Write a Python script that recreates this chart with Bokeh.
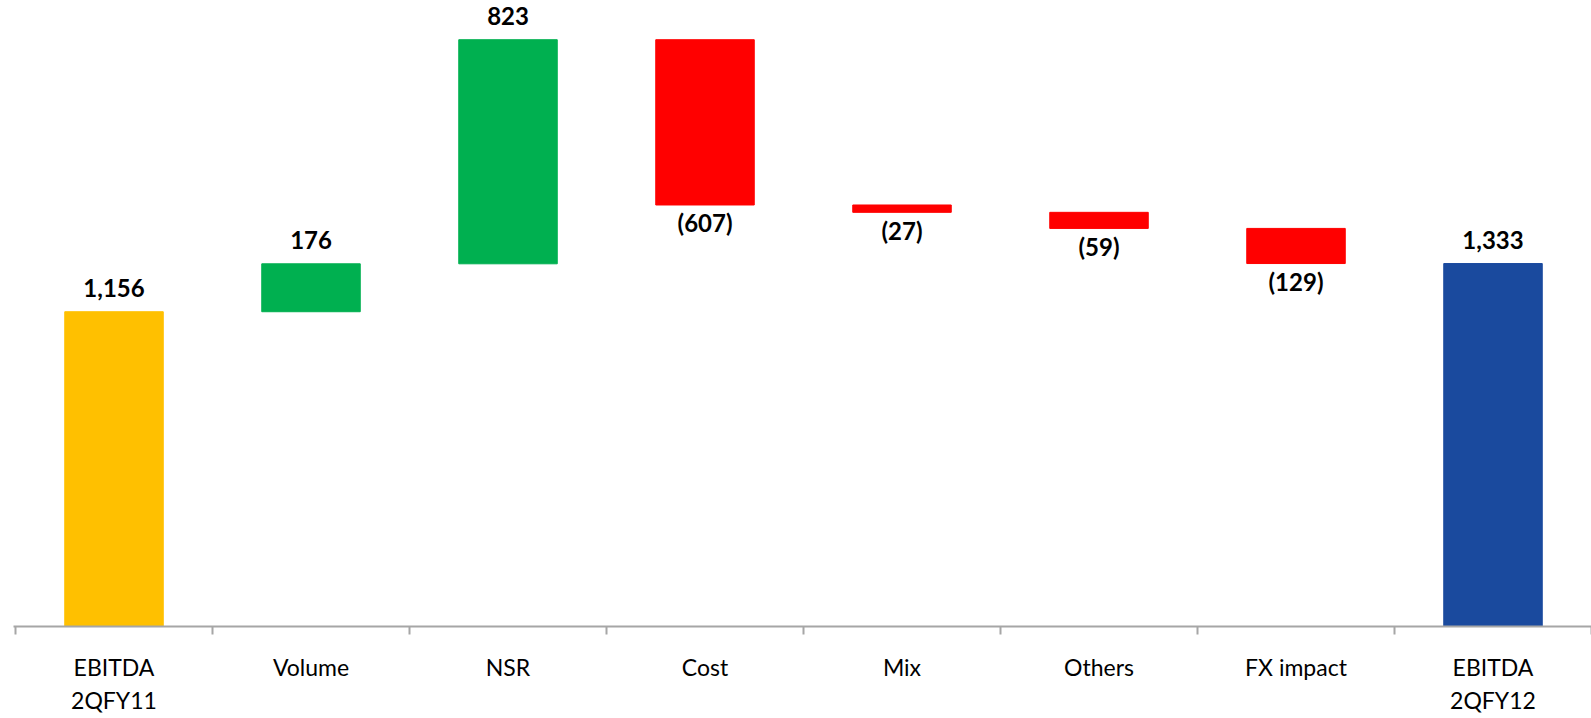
from bokeh.plotting import figure
from bokeh.models import ColumnDataSource, FixedTicker, LinearAxis, Range1d
from bokeh.core.properties import value
from bokeh.embed import file_html
from bokeh.resources import INLINE

# ---- data ----
categories = ["EBITDA\n2QFY11", "Volume", "NSR", "Cost", "Mix", "Others", "FX impact", "EBITDA\n2QFY12"]
changes = [1156, 176, 823, -607, -27, -59, -129, 1333]
kinds = ["start", "up", "up", "down", "down", "down", "down", "end"]

palette = {"start": "#FFC000", "up": "#00B050", "down": "#FF0000", "end": "#1A4A9E"}

# ---- waterfall geometry from data ----
bottoms, tops = [], []
pos_x, pos_y, pos_lab = [], [], []
neg_x, neg_y, neg_lab = [], [], []
running = 0
xs = [i + 0.5 for i in range(len(categories))]
for x, ch, kind in zip(xs, changes, kinds):
    if kind in ("start", "end"):
        b, t = 0, ch
        running = ch
    else:
        b, t = running, running + ch
        running = running + ch
    lo, hi = min(b, t), max(b, t)
    bottoms.append(lo)
    tops.append(hi)
    if ch < 0:
        neg_x.append(x); neg_y.append(lo); neg_lab.append("({:,})".format(-ch))
    else:
        pos_x.append(x); pos_y.append(hi); pos_lab.append("{:,}".format(ch))

src = ColumnDataSource(dict(x=xs, bottom=bottoms, top=tops, color=[palette[k] for k in kinds]))
pos_src = ColumnDataSource(dict(x=pos_x, y=pos_y, label=pos_lab))
neg_src = ColumnDataSource(dict(x=neg_x, y=neg_y, label=neg_lab))

p = figure(width=1591, height=718, output_backend="svg", toolbar_location=None,
           x_range=Range1d(-0.0102, 8.0), y_range=Range1d(0, 2299),
           x_axis_type=None, y_axis_type=None,
           min_border_left=13, min_border_right=0, min_border_top=0, min_border_bottom=92)
p.outline_line_color = None
p.xgrid.visible = False
p.ygrid.visible = False
p.background_fill_color = "white"
p.border_fill_color = "white"

p.vbar(x="x", bottom="bottom", top="top", width=0.5, color="color", source=src)

common = dict(text_align="center", text_baseline="alphabetic",
              text_font=value("Lato"), text_font_style="bold", text_font_size="24px",
              text_color="black")
p.text(x="x", y="y", text="label", y_offset=-24, source=pos_src, **common)
p.text(x="x", y="y", text="label", y_offset=18, source=neg_src, **common)

ax = LinearAxis(ticker=FixedTicker(ticks=xs, minor_ticks=list(range(len(categories) + 1))))
ax.major_label_overrides = {x: c for x, c in zip(xs, categories)}
ax.axis_line_color = "#A6A6A6"
ax.axis_line_width = 2
ax.major_tick_out = 0
ax.major_tick_in = 0
ax.minor_tick_out = 8
ax.minor_tick_in = 0
ax.minor_tick_line_color = "#A6A6A6"
ax.minor_tick_line_width = 2
ax.major_label_standoff = 18
ax.major_label_text_font = "Lato"
ax.major_label_text_font_size = "23px"
ax.major_label_text_color = "black"
ax.major_label_text_line_height = 1.19
p.add_layout(ax, "below")

open("out.html", "w").write(file_html(p, INLINE))
